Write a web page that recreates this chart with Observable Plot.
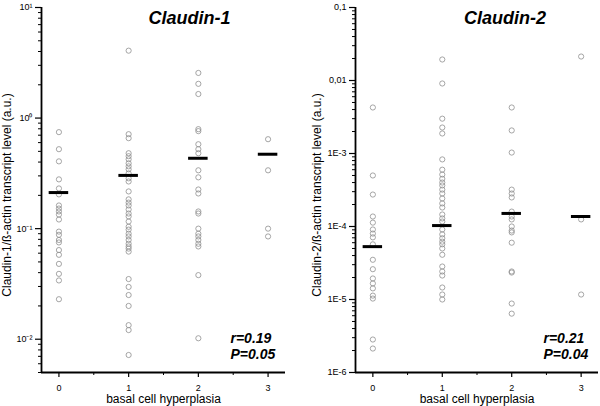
<!DOCTYPE html>
<html><head><meta charset="utf-8">
<script src="https://cdn.jsdelivr.net/npm/d3@7"></script>
<script src="https://cdn.jsdelivr.net/npm/@observablehq/plot@0.6"></script>
<style>
html,body{margin:0;padding:0;background:#fff;}
#wrap{display:flex;width:600px;height:406px;overflow:hidden;}
#wrap svg{display:block;}
</style></head><body><div id="wrap"></div>
<script>
const groups = [0, 1, 2, 3];
const xTicks = [0, 1, 2, 3];
const xMinorTicks = [0.5, 1.5, 2.5];
const xLabel = "basal cell hyperplasia";

// Claudin-1 panel
const c1Title = "Claudin-1";
const c1YLabel = "Claudin-1/ß-actin transcript level (a.u.)";
const c1Stats = ["r=0.19", "P=0.05"];
const c1Ticks = [10, 1, 0.1, 0.01];
const c1TickLabels = ["10¹", "10⁰", "10⁻¹", "10⁻²"];
const c1Domain = [0.005, 10];
const c1_g0 = [0.746, 0.523, 0.406, 0.279, 0.231, 0.204, 0.162, 0.152, 0.143, 0.134, 0.121, 0.094, 0.088, 0.079, 0.075, 0.064, 0.058, 0.048, 0.039, 0.034, 0.023];
const c1_g1 = [4.07, 0.715, 0.658, 0.481, 0.452, 0.424, 0.390, 0.366, 0.344, 0.316, 0.285, 0.267, 0.217, 0.184, 0.172, 0.162, 0.149, 0.137, 0.129, 0.116, 0.104, 0.098, 0.090, 0.085, 0.079, 0.073, 0.069, 0.066, 0.062, 0.035, 0.0297, 0.0251, 0.020, 0.0134, 0.0121, 0.0072];
const c1_g2 = [2.56, 2.04, 1.65, 0.794, 0.762, 0.58, 0.523, 0.481, 0.337, 0.291, 0.226, 0.208, 0.143, 0.137, 0.100, 0.090, 0.085, 0.079, 0.073, 0.069, 0.038, 0.0102];
const c1_g3 = [0.644, 0.337, 0.100, 0.085];
const c1Medians = [0.212, 0.303, 0.433, 0.471];

// Claudin-2 panel
const c2Title = "Claudin-2";
const c2YLabel = "Claudin-2/ß-actin transcript level (a.u.)";
const c2Stats = ["r=0.21", "P=0.04"];
const c2Ticks = [0.1, 0.01, 1e-3, 1e-4, 1e-5, 1e-6];
const c2TickLabels = ["0,1", "0,01", "1E-3", "1E-4", "1E-5", "1E-6"];
const c2Domain = [1e-6, 0.1];
const c2_g0 = [0.00427, 5.0e-4, 2.74e-4, 1.37e-4, 1.13e-4, 9.1e-5, 8.0e-5, 7.1e-5, 5.7e-5, 3.5e-5, 2.6e-5, 1.94e-5, 1.66e-5, 1.42e-5, 1.13e-5, 1.03e-5, 2.83e-6, 2.13e-6];
const c2_g1 = [0.0194, 0.0091, 0.0030, 0.00227, 0.00188, 8.3e-4, 6.0e-4, 5.15e-4, 4.5e-4, 4.0e-4, 3.65e-4, 3.2e-4, 2.83e-4, 2.42e-4, 2.07e-4, 1.82e-4, 1.46e-4, 1.29e-4, 1.17e-4, 9.1e-5, 7.8e-5, 6.9e-5, 6.2e-5, 5.7e-5, 5.0e-5, 4.1e-5, 2.83e-5, 2.42e-5, 2.13e-5, 1.46e-5, 1.17e-5, 1.0e-5];
const c2_g2 = [0.00427, 0.00207, 0.00103, 3.2e-4, 2.83e-4, 2.5e-4, 1.6e-4, 1.37e-4, 1.25e-4, 1.0e-4, 8.8e-5, 8.3e-5, 6.0e-5, 2.42e-5, 2.34e-5, 8.8e-6, 6.4e-6];
const c2_g3 = [0.0213, 1.25e-4, 1.17e-5];
const c2Medians = [5.3e-5, 1.03e-4, 1.51e-4, 1.37e-4];

const FONT = "'Liberation Sans', Arial, Helvetica, sans-serif";

function minorTicks(domain) {
  const out = [];
  const lo = Math.floor(Math.log10(domain[0]));
  const hi = Math.ceil(Math.log10(domain[1]));
  for (let e = lo; e < hi; e++) {
    for (let k = 2; k <= 9; k++) {
      const v = k * Math.pow(10, e);
      if (v >= domain[0] * 0.999 && v <= domain[1] * 1.001) out.push(v);
    }
  }
  return out;
}

function panel(o) {
  const pts = o.series.flatMap((vals, i) => vals.map(v => ({x: groups[i], y: v})));
  const med = o.medians.map((m, i) => ({x: groups[i], y: m}));
  const labelOf = new Map(o.ticks.map((t, i) => [t, o.tickLabels[i]]));
  return Plot.plot({
    width: 300, height: 406,
    marginTop: 7, marginBottom: 34, marginLeft: o.marginLeft, marginRight: o.marginRight,
    style: {fontFamily: FONT, fontSize: "9px", color: "#000", background: "#fff", overflow: "visible"},
    x: {domain: [-0.25, 3.25]},
    y: {type: "log", domain: o.domain},
    marks: [
      Plot.axisY(minorTicks(o.domain), {tickSize: 3, tickFormat: () => "", label: null, strokeWidth: 1}),
      Plot.axisY(o.ticks, {tickSize: 6, tickPadding: 3, tickFormat: d => labelOf.get(d), label: null, fontSize: 9, strokeWidth: 1.2}),
      Plot.axisX(xMinorTicks, {tickSize: 3, tickFormat: () => "", label: null, strokeWidth: 1}),
      Plot.axisX(xTicks, {tickSize: 5, tickPadding: 7, tickFormat: d => String(d), label: null, fontSize: 9, strokeWidth: 1.2}),
      Plot.ruleX([-0.25], {stroke: "#000", strokeWidth: 1.8}),
      Plot.ruleY([o.domain[0]], {stroke: "#000", strokeWidth: 1.8}),
      Plot.dot(pts, {x: "x", y: "y", r: 2.6, stroke: "#8f8f8f", fill: "none", strokeWidth: 0.8}),
      Plot.ruleY(med, {x1: d => d.x - 0.14, x2: d => d.x + 0.14, y: "y", stroke: "#000", strokeWidth: 3}),
      Plot.text([o.title], {frameAnchor: "top", dx: o.titleDx, dy: 11, fontSize: 18, fontWeight: "bold", fontStyle: "italic", lineAnchor: "middle"}),
      Plot.text([o.stats[0]], {frameAnchor: "bottom-right", textAnchor: "start", dx: -55, dy: -33.5, fontSize: 14, fontWeight: "bold", fontStyle: "italic", lineAnchor: "middle"}),
      Plot.text([o.stats[1]], {frameAnchor: "bottom-right", textAnchor: "start", dx: -55, dy: -17.5, fontSize: 14, fontWeight: "bold", fontStyle: "italic", lineAnchor: "middle"}),
      Plot.text([xLabel], {frameAnchor: "bottom", dy: 27, fontSize: 12, lineAnchor: "middle"}),
      Plot.text([o.yLabel], {frameAnchor: "left", rotate: -90, dx: o.yLabelDx, dy: 5, fontSize: 12, textAnchor: "middle", lineAnchor: "middle"})
    ]
  });
}

const wrap = document.getElementById("wrap");
wrap.append(panel({
  series: [c1_g0, c1_g1, c1_g2, c1_g3], medians: c1Medians, domain: c1Domain,
  ticks: c1Ticks, tickLabels: c1TickLabels, title: c1Title, yLabel: c1YLabel, stats: c1Stats,
  marginLeft: 41, marginRight: 15, titleDx: 26, yLabelDx: -34
}));
wrap.append(panel({
  series: [c2_g0, c2_g1, c2_g2, c2_g3], medians: c2Medians, domain: c2Domain,
  ticks: c2Ticks, tickLabels: c2TickLabels, title: c2Title, yLabel: c2YLabel, stats: c2Stats,
  marginLeft: 55, marginRight: 2, titleDx: 28, yLabelDx: -38
}));
</script>
</body></html>
